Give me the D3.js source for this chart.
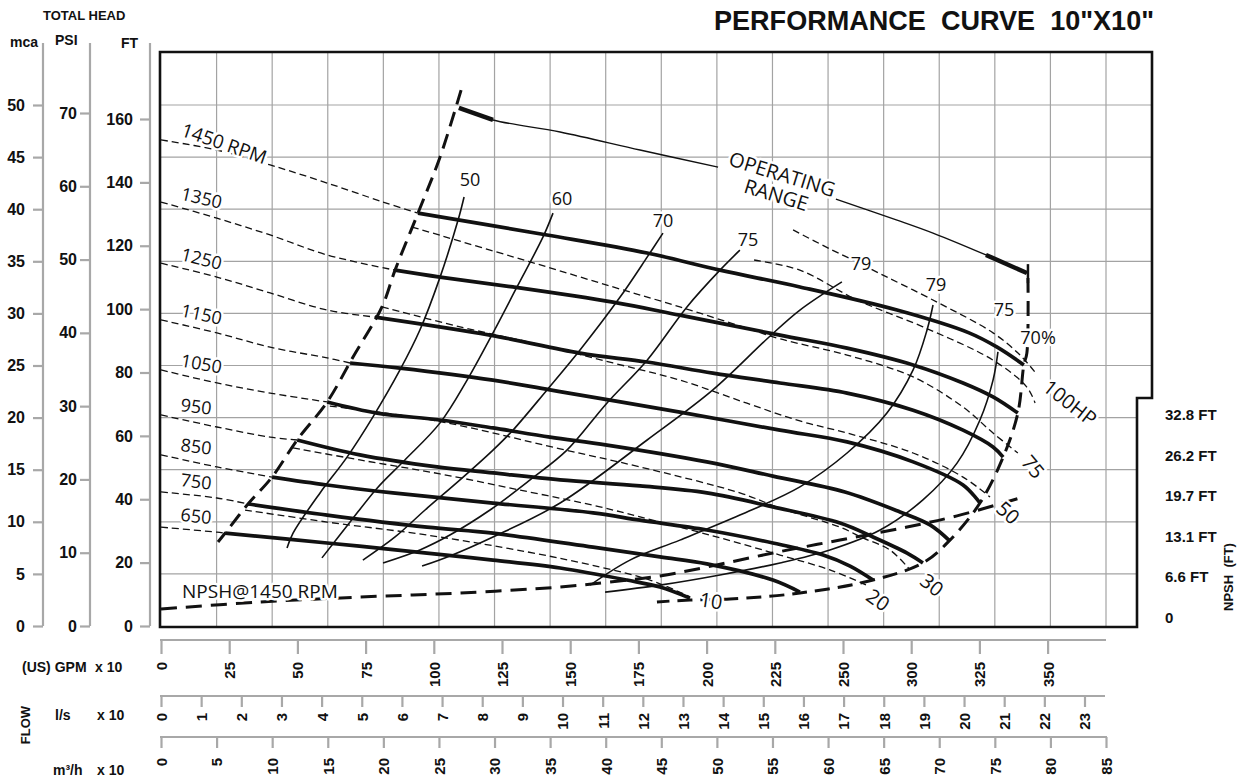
<!DOCTYPE html>
<html>
<head>
<meta charset="utf-8">
<script src="https://cdnjs.cloudflare.com/ajax/libs/d3/7.8.5/d3.min.js"></script>
<style>
  body { margin: 0; background: #fff; }
  svg { display: block; }
  .axis text { font-family: "Liberation Sans", Arial, sans-serif; font-weight: bold; font-size: 15px; fill: #111; }
  .axis.left text { font-size: 16px; }
  .axis line { stroke: #a8a8a8; stroke-width: 2.2; }
  .hdr { font-family: "Liberation Sans", Arial, sans-serif; font-weight: bold; fill: #111; white-space: pre; }
  .lbl { font-family: "Open Sans", "DejaVu Sans", sans-serif; fill: #111; paint-order: stroke; stroke: #fff; stroke-width: 5px; stroke-linejoin: round; }
</style>
</head>
<body>
<script>
// ---- axis ticks ----
const flowTicks = [0, 25, 50, 75, 100, 125, 150, 175, 200, 225, 250, 275, 300, 325];
const flowTickText = ['0', '25', '50', '75', '100', '125', '150', '175', '200', '225', '250', '300', '325', '350'];
const lpsTicks = [0, 1, 2, 3, 4, 5, 6, 7, 8, 9, 10, 11, 12, 13, 14, 15, 16, 17, 18, 19, 20, 21, 22, 23];
const m3hTicks = [0, 5, 10, 15, 20, 25, 30, 35, 40, 45, 50, 55, 60, 65, 70, 75, 80, 85];
const mcaTicks = [0, 5, 10, 15, 20, 25, 30, 35, 40, 45, 50];
const psiTicks = [0, 10, 20, 30, 40, 50, 60, 70];
const ftTicks = [0, 20, 40, 60, 80, 100, 120, 140, 160];
const npshTicks = [0, 6.6, 13.1, 19.7, 26.2, 32.8];

// ---- speed curves: [flow (GPM x10), head (ft)] ----
const speeds = [1450, 1350, 1250, 1150, 1050, 950, 850, 750, 650];
const speedLow = [
  [[0,153.4],[20.5,150.2],[40,145.5],[60.9,139.8],[81.4,133.8],[94.2,130.3]],
  [[0,133.8],[20.5,128.7],[40,123.4],[60.9,117.1],[85.8,112.3]],
  [[0,114.5],[20.5,110.1],[40,105.1],[60.9,99.7],[78.4,97.5]],
  [[0,96.6],[20.5,92.5],[40,88.0],[60.9,84.6],[69.3,83.0]],
  [[0,80.8],[20.5,76.7],[40,73.5],[60.9,70.7]],
  [[0,66.6],[20.5,62.8],[40,59.6],[49.9,58.7]],
  [[0,54.0],[20.5,50.2],[40.7,47.0]],
  [[0,42.3],[20.5,40.4],[31.9,38.5]],
  [[0,31.2],[20.5,29.6],[23.5,29.3]]
];
const speedRun = [
  [[94.2,130.3],[141.5,123.4],[178.2,117.7],[204.9,112.3],[234.2,107.0],[269.8,99.7],[296.2,92.5],[306.5,88.0],[316.3,82.4]],
  [[85.8,112.3],[102.3,110.1],[129,107],[165.7,102.2],[190.2,98.1],[226.9,91.8],[251.5,87.7],[275.7,82.4],[294,76.7],[305,72.3],[314.1,67.2]],
  [[78.4,97.5],[120.6,91.8],[153.6,86.1],[178.2,83.3],[202.3,79.8],[226.9,76.7],[251.5,73.5],[275.7,68.1],[294.0,61.8],[305.0,56.5],[308.7,53.3]],
  [[69.3,83.0],[87.6,81.4],[121.7,77.6],[142.6,74.5],[164.6,71.3],[190.2,67.5],[226.9,61.8],[251.5,58.1],[275.7,51.8],[294.0,44.5],[300.2,38.8]],
  [[60.9,70.7],[79.2,67.2],[102.3,65.0],[121.7,62.5],[142.6,59.6],[163.5,57.1],[200.1,51.8],[224.3,47.3],[250.7,42.3],[270.9,36.0],[281.9,31.9],[289.2,26.8]],
  [[49.9,58.7],[72.9,54.0],[101.2,50.2],[121.7,48.3],[146.3,46.1],[175.6,44.2],[200.1,42.0],[224.3,37.6],[248.9,32.5],[261.0,28.1],[273.5,23.0],[279.3,19.9]],
  [[40.7,47.0],[60.9,44.5],[85.0,42.0],[121.7,38.8],[158.4,35.7],[175.6,33.4],[200.1,30.3],[224.3,26.2],[242.7,22.4],[252.6,18.9],[261.0,14.5]],
  [[31.9,38.5],[60.9,35.0],[97.5,31.2],[121.7,29.3],[158.4,24.9],[182.9,21.8],[200.1,19.6],[224.3,14.5],[234.2,10.7]],
  [[23.5,29.3],[60.9,26.2],[97.5,23.0],[121.7,20.8],[146.3,18.3],[170.8,14.5],[182.9,12.3],[193.9,8.8]]
];

// ---- power (HP) curves ----
const hp100a = [[231.7,125.0],[245.2,119.0],[255.1,114.9],[261.0,112.3],[284.5,102.2],[305.0,92.5],[314.9,85.5],[320.4,80.1]];
const hp100b = [[217.4,115.5],[234.2,112.3],[255.1,102.9],[279.3,94.4],[305.0,83.9],[317.4,75.4],[320.4,70.4]];
const hp75 = [[92.0,125.9],[135.3,114.9],[165.7,107.0],[190.2,100.7],[213.3,94.4],[226.9,90.6],[251.5,85.5],[275.7,78.6],[294.0,69.1],[305.0,60.9],[314.1,54.6]];
const hp50 = [[81.0,100.7],[109.6,94.4],[136.4,89.3],[165.7,83.0],[190.2,77.6],[214.8,70.3],[234.2,64.7],[251.5,60.9],[275.7,54.6],[294.0,47.0],[303.9,40.7]];
const hp30 = [[61.9,69.4],[101.2,64.7],[146.3,55.9],[175.6,50.2],[212.2,42.0],[226.9,37.2],[248.9,31.2],[257.3,27.8],[267.2,24.0],[274.6,17.7]];
const hp20 = [[48.4,56.2],[72.9,52.4],[102.3,48.0],[131.6,42.9],[160.9,37.6],[175.6,34.4],[201.2,28.7],[226.9,22.4],[245.2,17.7],[258.4,13.0]];
const hp10 = [[30.8,36.6],[60.9,32.8],[97.5,28.7],[134.2,23.4],[160.9,18.6],[179.3,14.5],[193.9,9.2]];

// ---- efficiency curves ----
const eff50 = [[111.1,135.4],[108.9,128.1],[102.3,110.1],[94.9,93.4],[87.6,80.8],[77.7,66.0],[68.2,53.3],[58.3,42.0],[48.4,29.3],[46.2,24.6]];
const eff60 = [[143.7,130.3],[140.0,122.7],[130.5,107.0],[121.7,92.5],[112.2,77.6],[102.3,64.1],[89.4,52.4],[79.2,43.5],[69.3,32.8],[59.0,21.5]];
const eff70 = [[184.0,124.0],[178.2,116.4],[168.3,103.8],[153.6,87.1],[141.5,74.5],[129.0,61.8],[121.7,55.5],[109.6,46.1],[96.8,36.6],[85.8,28.1],[74.0,20.8]];
const eff75 = [[212.2,118.6],[204.9,112.3],[192.8,100.7],[178.2,83.9],[163.5,70.4],[148.8,55.5],[135.3,46.1],[120.6,36.6],[105.9,28.7],[94.9,24.0],[81.4,19.9]];
const eff79 = [[249.6,108.6],[234.2,99.7],[222.9,91.2],[202.3,74.5],[178.2,58.7],[146.3,38.8],[121.7,28.1],[105.9,22.1],[95.7,18.9]];
const eff79b = [[283.0,101.3],[280.8,93.4],[275.7,80.8],[266.1,67.2],[251.5,54.6],[234.2,43.9],[212.2,35.0],[190.2,27.1],[171.9,20.8],[157.3,12.9]];
const eff75b = [[306.8,86.5],[305.0,77.6],[300.2,65.0],[291.8,51.4],[279.3,39.8],[263.6,30.3],[245.2,24.0],[226.9,19.9],[204.9,16.1],[182.9,12.9],[162.8,10.7]];

// ---- operating range limits ----
const leftLimit = [[110.0,169.1],[102.3,148.0],[94.2,130.3],[85.8,112.3],[81.0,100.7],[70.4,84.9],[60.9,70.7],[49.9,58.7],[40.7,47.0],[31.9,38.5],[23.5,29.3],[20.9,26.5]];
const rightLimit = [[317.8,109.8],[317.4,86.1],[316.3,82.4],[314.1,67.2],[308.7,53.3],[300.2,38.8],[289.2,27.1],[279.3,19.9],[261.0,14.5],[234.2,10.4],[208.6,8.5],[193.9,8.2],[181.8,7.6]];
const rangeTopA = [[109.2,163.5],[121.7,159.7],[146.3,155.9],[175.6,150.2],[204.2,144.8]];
const rangeTopB = [[247.4,134.7],[269.8,128.1],[283.0,124.0],[302.4,117.1],[317.4,111.4]];
const rangeEndBar = [[317.8,114.2],[317.8,108.2]];

// ---- NPSH @1450 RPM: flow vs NPSH ft ----
const npshFlow = [0, 36.3, 73.1, 109.6, 146.3, 164.6, 182.9, 200.1, 224.3, 248.9, 273.5, 291.8, 314.9];
const npshFt = [1.45, 2.58, 3.39, 4.04, 5.01, 5.82, 6.79, 8.24, 10.5, 12.6, 14.7, 16.5, 19.4];

// ---- chart ----
const W = 1243, H = 780;
const svg = d3.select('body').append('svg').attr('width', W).attr('height', H);

const x = d3.scaleLinear().domain([0, 350]).range([161, 161 + 350 * 2.728]);
const xLps = d3.scaleLinear().domain([0, 23]).range([161, 1084.5]);
const xM3h = d3.scaleLinear().domain([0, 85]).range([161, 1106]);
const y = d3.scaleLinear().domain([0, 160]).range([626, 119]);
const yMca = d3.scaleLinear().domain([0, 50]).range([626, 105]);
const yPsi = d3.scaleLinear().domain([0, 70]).range([626, 113]);
const yNpsh = d3.scaleLinear().domain([0, 32.8]).range([618, 415]);

const framePath = 'M160,52H1152V398H1137V627H160Z';
svg.append('clipPath').attr('id', 'plotClip').append('path').attr('d', framePath);

// grid
const grid = svg.append('g').attr('clip-path', 'url(#plotClip)')
  .attr('stroke', '#a3a3a3').attr('stroke-width', 1.2);
grid.selectAll('line.v').data(m3hTicks.slice(1)).join('line').attr('class', 'v')
  .attr('x1', d => xM3h(d)).attr('x2', d => xM3h(d)).attr('y1', 52).attr('y2', 627);
grid.selectAll('line.h').data(mcaTicks.slice(1)).join('line').attr('class', 'h')
  .attr('x1', 160).attr('x2', 1152).attr('y1', d => yMca(d)).attr('y2', d => yMca(d));

svg.append('path').attr('d', framePath).attr('fill', 'none')
  .attr('stroke', '#111').attr('stroke-width', 2.6);

// left axes
function leftAxis(scale, ticks, xPos, pad) {
  const g = svg.append('g').attr('class', 'axis left').attr('transform', `translate(${xPos},0)`)
    .call(d3.axisLeft(scale).tickValues(ticks).tickSize(10).tickPadding(pad));
  g.select('.domain').remove();
  g.append('line').attr('y1', 43).attr('y2', 626);
}
leftAxis(yMca, mcaTicks, 43, 8);
leftAxis(yPsi, psiTicks, 90, 3);
leftAxis(y, ftTicks, 150, 7);

// bottom axes
function bottomAxis(scale, ticks, texts, yPos, size, gap, x2) {
  const g = svg.append('g').attr('class', 'axis').attr('transform', `translate(0,${yPos})`)
    .call(d3.axisBottom(scale).tickValues(ticks).tickSize(size).tickFormat((d, i) => texts[i]));
  g.select('.domain').remove();
  g.append('line').attr('x1', 160).attr('x2', x2);
  g.selectAll('.tick text').attr('transform', 'rotate(-90)')
    .attr('text-anchor', 'end').attr('x', -gap).attr('y', 0).attr('dy', '0.36em');
}
bottomAxis(x, flowTicks, flowTickText, 640, 14, 22, 1106);
bottomAxis(xLps, lpsTicks, lpsTicks.map(String), 696, 11, 17, 1105);
bottomAxis(xM3h, m3hTicks, m3hTicks.map(String), 737, 11, 21, 1107);

// headers
const hdr = (t, px, py, fs, rot) => {
  const e = svg.append('text').attr('class', 'hdr').attr('font-size', fs).text(t);
  if (rot) e.attr('transform', `translate(${px},${py}) rotate(${rot})`).attr('text-anchor', 'middle');
  else e.attr('x', px).attr('y', py);
  return e;
};
hdr('TOTAL HEAD', 43, 20, 13);
hdr('mca', 10, 47, 14);
hdr('PSI', 55, 45, 14);
hdr('FT', 121, 48, 14);
hdr('(US) GPM', 22, 672, 14);
hdr('x 10', 95, 672, 14);
hdr('l/s', 55, 720, 14);
hdr('x 10', 97, 720, 14);
hdr('m³/h', 53, 775, 14);
hdr('x 10', 97, 775, 14);
hdr('FLOW', 30, 725, 13, -90);
hdr('NPSH  (FT)', 1233, 577, 13, -90);
hdr('PERFORMANCE  CURVE  10"X10"', 714, 30, 28).attr('textLength', 440).attr('lengthAdjust', 'spacingAndGlyphs');

svg.append('g').selectAll('text').data(npshTicks).join('text').attr('class', 'hdr')
  .attr('font-size', 15).attr('x', 1165).attr('y', d => yNpsh(d) + 5)
  .text(d => d === 0 ? '0' : d.toFixed(1) + ' FT');

// curves
const line = d3.line().x(d => x(d[0])).y(d => y(d[1])).curve(d3.curveCatmullRom.alpha(0.5));
const curves = svg.append('g').attr('fill', 'none').attr('stroke', '#111');

const draw = (data, w, dash) => curves.append('path').attr('d', line(data))
  .attr('stroke-width', w).attr('stroke-dasharray', dash || null);

[eff50, eff60, eff70, eff75, eff79, eff79b, eff75b].forEach(c => draw(c, 1.6));
[hp100a, hp100b, hp75, hp50, hp30, hp20, hp10].forEach(c => draw(c, 1.3, '7,4'));
speedLow.forEach(c => draw(c, 1.3, '7,4'));
speedRun.forEach(c => draw(c, 3.7));
draw(leftLimit, 3, '15,8');
draw(rightLimit, 3, '15,8');
draw(rangeTopA, 1.4);
draw(rangeTopB, 1.4);
draw(rangeTopA.slice(0, 2), 4.5);
draw(rangeTopB.slice(-2), 4.5);
draw(rangeEndBar, 2.5);

const npshLine = d3.line().x((d, i) => x(npshFlow[i])).y(d => yNpsh(d)).curve(d3.curveCatmullRom.alpha(0.5));
curves.append('path').attr('d', npshLine(npshFt)).attr('stroke-width', 3).attr('stroke-dasharray', '16,9');

// labels
const labels = svg.append('g');
const label = (t, f, h, fs, rot, anchor) => labels.append('text').attr('class', 'lbl')
  .attr('font-size', fs).attr('text-anchor', anchor || 'middle').attr('dy', anchor ? 0 : '0.35em')
  .attr('transform', `translate(${x(f)},${y(h)}) rotate(${rot || 0})`).text(t);

function headAt(pts, f) {
  for (let i = 1; i < pts.length; i++) {
    if (f <= pts[i][0]) {
      const t = (f - pts[i - 1][0]) / (pts[i][0] - pts[i - 1][0]);
      return pts[i - 1][1] + t * (pts[i][1] - pts[i - 1][1]);
    }
  }
  return pts[pts.length - 1][1];
}
const rpmAngle = { 1450: 19, 1350: 13, 1250: 14, 1150: 12, 1050: 10, 950: 7, 850: 7, 750: 7, 650: 6 };
speeds.forEach((s, i) => {
  const h = headAt(speedLow[i], 7);
  labels.append('text').attr('class', 'lbl').attr('font-size', i === 0 ? 19 : 18)
    .attr('transform', `translate(${x(7)},${y(h) - 8}) rotate(${rpmAngle[s]})`)
    .text(i === 0 ? s + ' RPM' : s);
});

// efficiency labels
label('50', 113.3, 140.7, 18);
label('60', 147.0, 134.7, 18);
label('70', 184.0, 127.8, 18);
label('75', 215.2, 121.8, 18);
label('79', 256.6, 114.2, 18);
label('79', 284.1, 107.6, 18);
label('75', 309.0, 99.7, 18);
label('70%', 321.5, 90.9, 18);

// power labels
label('100HP', 333.2, 70.4, 20, 38);
label('75', 319.6, 50.2, 20, 50);
label('50', 310.5, 35.7, 20, 42);
label('30', 282.6, 12.9, 20, 38);
label('20', 262.8, 8.2, 20, 35);
label('10', 201.6, 7.9, 20, 8);

label('OPERATING', 227.7, 142.5, 20, 17);
label('RANGE', 225.5, 136.0, 20, 17);
label('NPSH@1450 RPM', 7.7, 8.8, 19, 0, 'start');
</script>
</body>
</html>
